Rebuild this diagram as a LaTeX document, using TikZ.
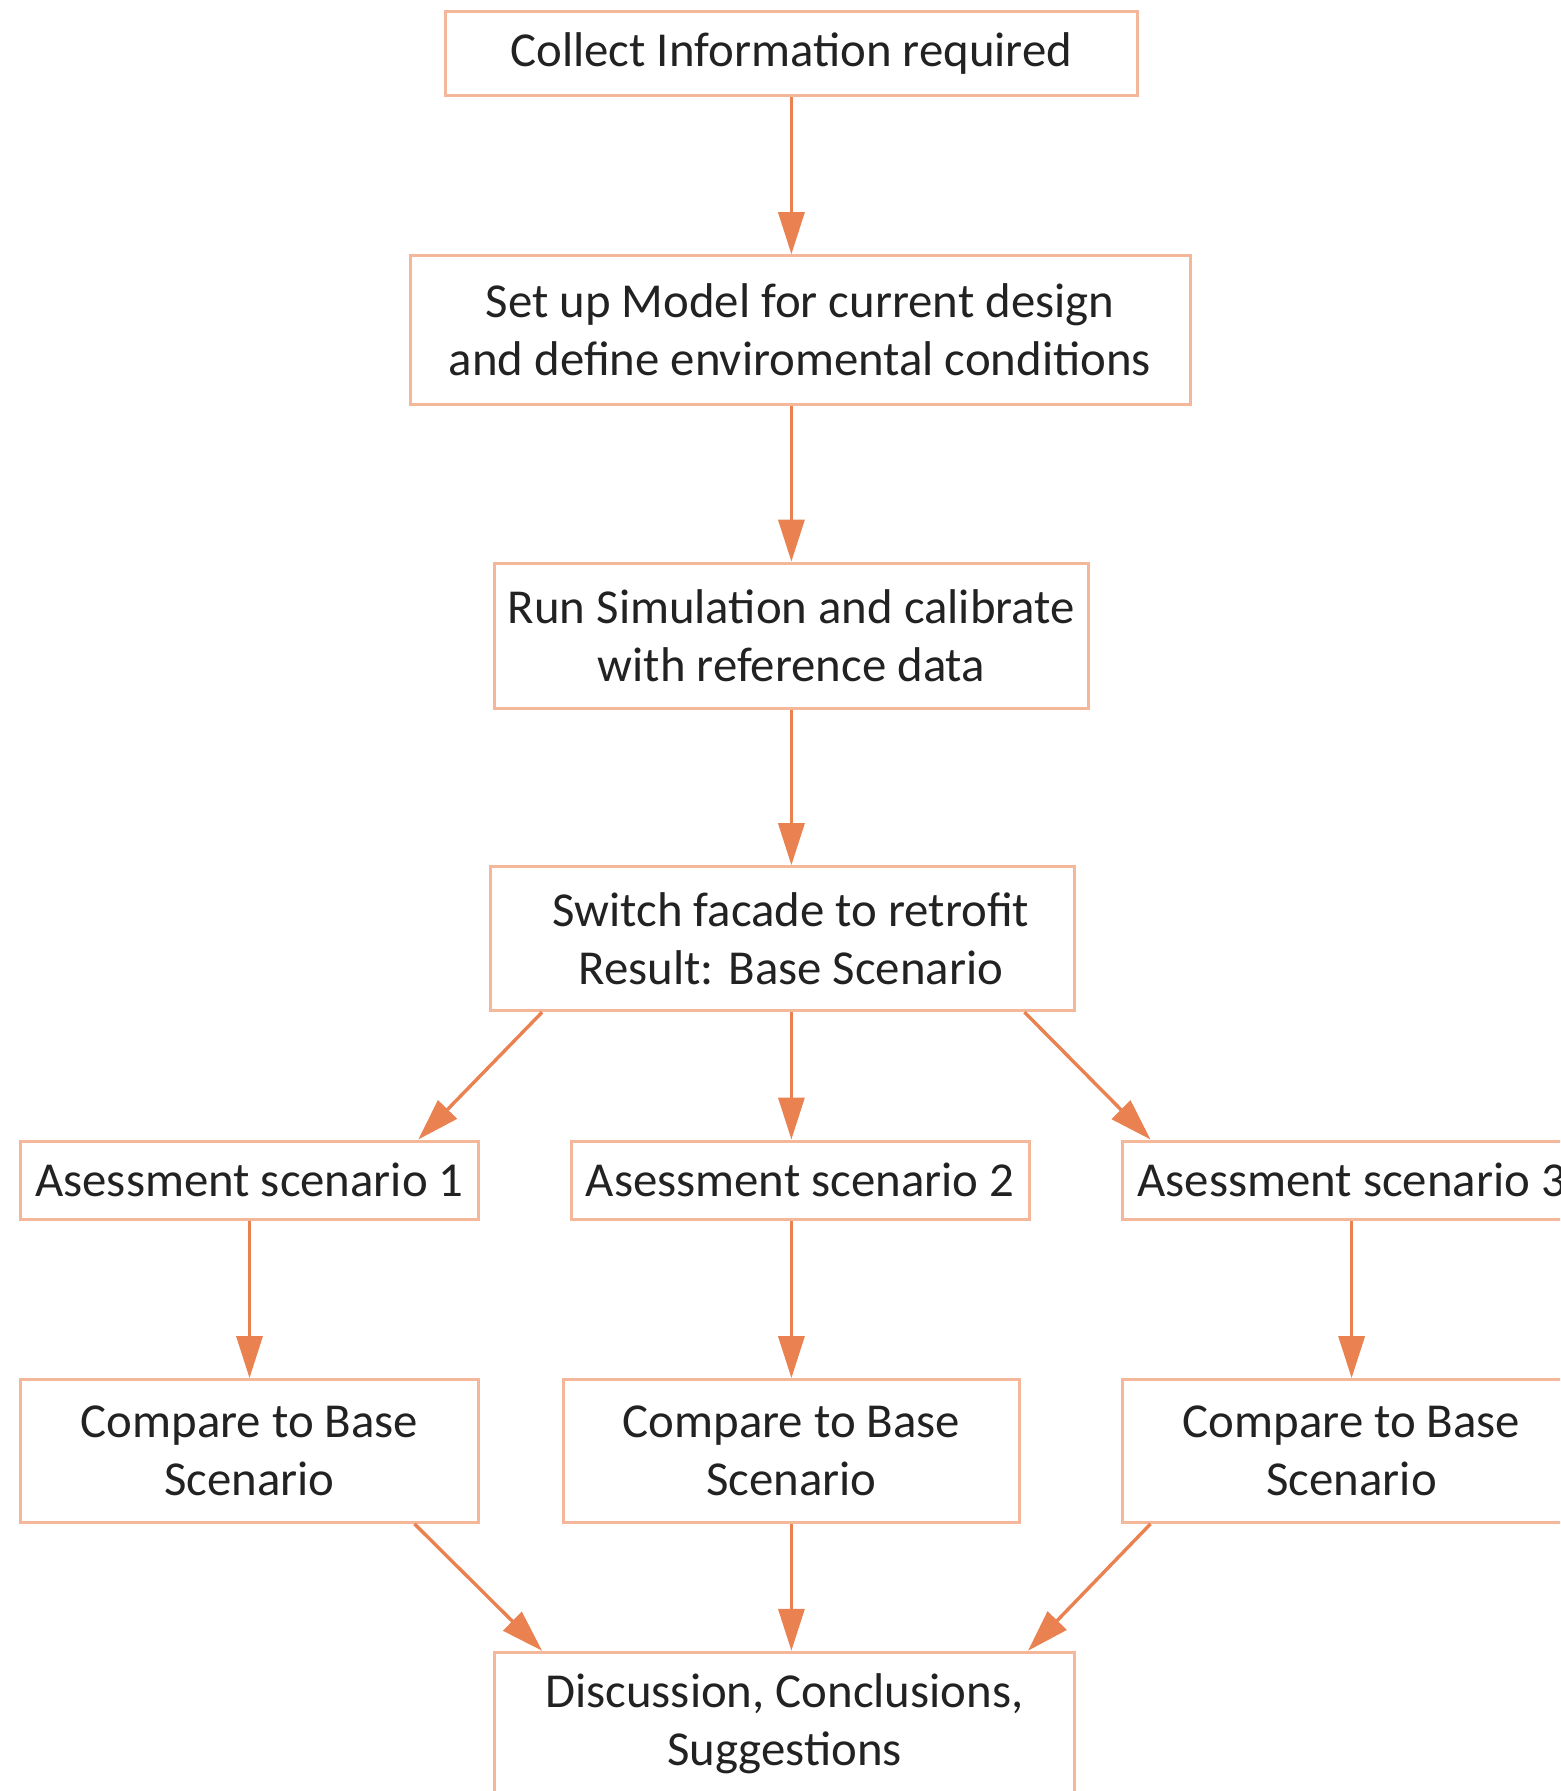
\documentclass[tikz,border=0pt]{standalone}
\usepackage{fontspec}
\setmainfont{Carlito}
\usetikzlibrary{arrows.meta,calc}
\definecolor{arrowc}{HTML}{EA8150}
\definecolor{boxc}{HTML}{F4B799}
\definecolor{txtc}{HTML}{222222}
\begin{document}
\begin{tikzpicture}[x=0.5pt,y=-0.5pt,
  box/.style={draw=boxc,line width=1.5pt,fill=white,inner sep=0pt,align=center,text=txtc,font=\fontsize{24.4}{29}\selectfont},
  arr/.style={draw=arrowc,line width=1.7pt,-{Triangle[length=21pt,width=13pt]}}]
\useasboundingbox (0,0) rectangle (1560,1791);
\clip (0,0) rectangle (1560,1791);
\node[box,minimum width=346pt,minimum height=42.25pt] (collect) at (791.4,53.7) {Collect Information required};
\node[box,minimum width=390pt,minimum height=74.25pt] (setup) at (800,330) {Set up Model for current design\\and define enviromental conditions};
\node[box,minimum width=297pt,minimum height=72.5pt] (run) at (791.4,635.6) {Run Simulation and calibrate\\with reference data};
\node[box,minimum width=292.3pt,minimum height=72pt] (switch) at (782.3,938.7) {\hspace*{8.6pt}Switch facade to retrofit\\\hspace*{8.6pt}Result: Base Scenario};
\node[box,minimum width=229pt,minimum height=39.3pt] (a1) at (249.5,1180.3) {Asessment scenario 1};
\node[box,minimum width=229pt,minimum height=39.3pt] (a2) at (800,1180.3) {Asessment scenario 2};
\node[box,minimum width=229pt,minimum height=39.3pt] (a3) at (1351.6,1180.3) {Asessment scenario 3};
\node[box,minimum width=229pt,minimum height=71.4pt] (c1) at (249.5,1451) {Compare to Base\\Scenario};
\node[box,minimum width=228.4pt,minimum height=71.4pt] (c2) at (791.4,1451) {Compare to Base\\Scenario};
\node[box,minimum width=229pt,minimum height=71.4pt] (c3) at (1351.6,1451) {Compare to Base\\Scenario};
\node[box,minimum width=290pt,minimum height=71.75pt] (d) at (784.5,1724) {Discussion, Conclusions,\\Suggestions};
\draw[arr] (collect.south) -- (setup.north -| collect.south);
\draw[arr] (setup.south -| collect.south) -- (run.north);
\draw[arr] (run.south) -- (switch.north -| run.south);
\draw[arr] (switch.south -| run.south) -- (a2.north -| run.south);
\draw[arr] ($(switch.south west)+(53.6,0)$) -- ($(a1.north east)+(-61.7,0)$);
\draw[arr] ($(switch.south east)+(-51.6,0)$) -- ($(a3.north west)+(29.4,0)$);
\draw[arr] (a1.south) -- (c1.north);
\draw[arr] (a2.south -| c2.north) -- (c2.north);
\draw[arr] (a3.south) -- (c3.north);
\draw[arr] ($(c1.south east)+(-65.5,0)$) -- ($(d.north west)+(49.1,0)$);
\draw[arr] (c2.south) -- (d.north -| c2.south);
\draw[arr] ($(c3.south west)+(29.4,0)$) -- ($(d.north east)+(-48,0)$);
\end{tikzpicture}
\end{document}
